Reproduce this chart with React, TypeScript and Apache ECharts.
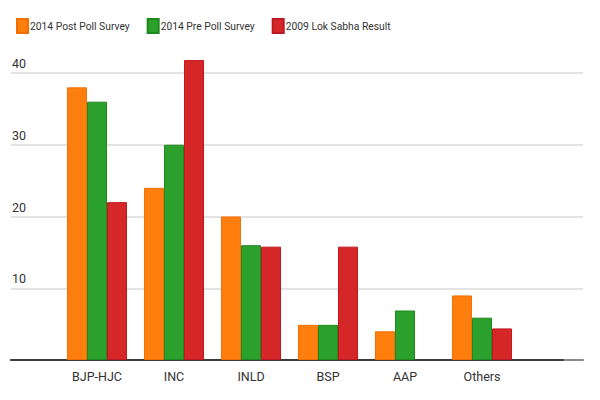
import React, { useEffect, useRef } from "react";
import * as echarts from "echarts";

const categories = ["BJP-HJC", "INC", "INLD", "BSP", "AAP", "Others"];
const seriesNames = ["2014 Post Poll Survey", "2014 Pre Poll Survey", "2009 Lok Sabha Result"];
const postPoll = [38, 24, 20, 4.9, 4, 9];
const prePoll = [36, 30, 16, 4.9, 6.9, 5.9];
const result2009 = [22, 41.8, 15.8, 15.8, 0, 4.4];
const yTicks = [0, 10, 20, 30, 40];

const colors = ["#ff7f0e", "#2ca02c", "#d62728"];
const borders = ["#f26f05", "#1e8a1e", "#c01820"];
const FONT = "Roboto, 'Noto Sans', sans-serif";

export default function App() {
  const ref = useRef<HTMLDivElement>(null);
  useEffect(() => {
    const chart = echarts.init(ref.current!, null, { renderer: "svg" });
    const values = [postPoll, prePoll, result2009];
    const baseY = 360;
    const pxPerUnit = 287 / 40;
    const barTop = baseY - 45 * pxPerUnit;
    chart.setOption({
      animation: false,
      backgroundColor: "#ffffff",
      textStyle: { fontFamily: FONT },
      legend: {
        left: 11,
        top: 13,
        itemWidth: 11,
        itemHeight: 14,
        itemGap: 17,
        icon: "rect",
        data: seriesNames,
        textStyle: { fontFamily: FONT, fontSize: 10.3, color: "#333", padding: [0, 0, 0, -3] },
      },
      grid: [
        { left: 11, right: 17, top: 73, bottom: 40 },
        { left: 58.5, width: 462, top: barTop, bottom: 40 },
        { left: 11, right: 37, top: 73, bottom: 40 },
      ],
      xAxis: [
        {
          gridIndex: 0,
          type: "value",
          min: 0,
          max: 1,
          axisLine: { show: true, onZero: false, lineStyle: { color: "#8a8a8a", width: 2 } },
          axisTick: { show: false },
          axisLabel: { show: false },
          splitLine: { show: false },
        },
        {
          gridIndex: 1,
          type: "category",
          data: categories,
          axisLine: { show: false },
          axisTick: { show: false },
          axisLabel: { fontFamily: FONT, fontSize: 12.5, color: "#333", margin: 10 },
        },
        {
          gridIndex: 2,
          type: "value",
          min: 0,
          max: 1,
          axisLine: { show: true, onZero: false, lineStyle: { color: "#3a3a3a", width: 2 } },
          axisTick: { show: false },
          axisLabel: { show: false },
          splitLine: { show: false },
        },
      ],
      yAxis: [
        {
          gridIndex: 0,
          type: "value",
          min: yTicks[0],
          max: yTicks[yTicks.length - 1],
          interval: 10,
          axisLine: { show: false },
          axisTick: { show: false },
          splitLine: { show: true, lineStyle: { color: "#dadada", width: 1.5 } },
          axisLabel: {
            inside: true,
            margin: 1,
            showMinLabel: false,
            verticalAlign: "bottom",
            padding: [0, 0, 3, 0],
            fontFamily: FONT,
            fontSize: 12.5,
            color: "#333",
          },
        },
        {
          gridIndex: 1,
          type: "value",
          min: 0,
          max: 45,
          show: false,
          splitLine: { show: false },
        },
        {
          gridIndex: 2,
          type: "value",
          min: 0,
          max: 1,
          show: false,
          splitLine: { show: false },
        },
      ],
      series: seriesNames.map((name, i) => ({
        name,
        type: "bar",
        xAxisIndex: 1,
        yAxisIndex: 1,
        data: values[i].map((v) => (v === 0 ? { value: v, itemStyle: { borderWidth: 0 } } : v)),
        barGap: "0%",
        barCategoryGap: "22%",
        itemStyle: { color: colors[i], borderColor: borders[i], borderWidth: 1 },
      })),
      color: colors,
    });
    return () => chart.dispose();
  }, []);
  return (
    <div
      ref={ref}
      style={{ position: "fixed", left: 0, top: 0, width: 600, height: 400 }}
    />
  );
}
